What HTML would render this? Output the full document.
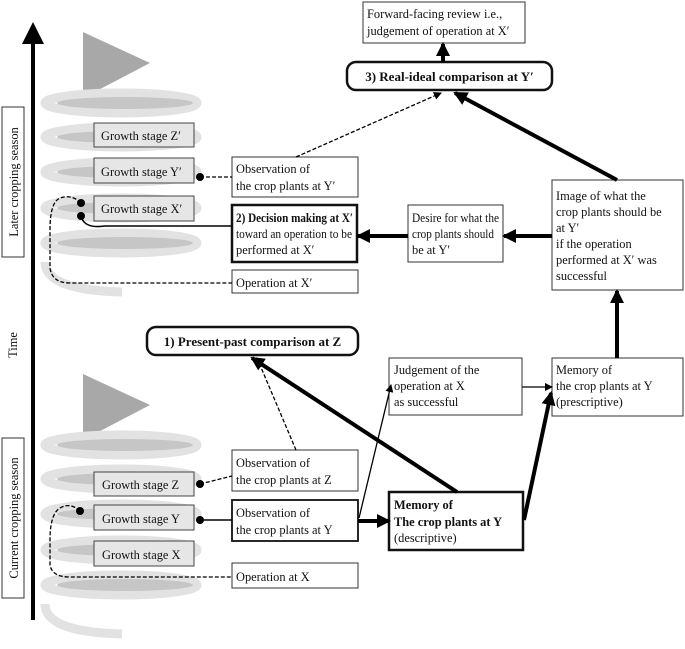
<!DOCTYPE html>
<html><head><meta charset="utf-8"><style>
html,body{margin:0;padding:0;background:#fff}
svg{display:block}
text{font-family:"Liberation Serif",serif;font-size:12.4px;fill:#111}
.b{font-weight:bold}
.r{font-size:13px}
</style></head><body>
<svg width="685" height="649" viewBox="0 0 685 649" xmlns="http://www.w3.org/2000/svg">
<defs>
<marker id="ah" markerWidth="8" markerHeight="8" refX="7" refY="4" orient="auto" markerUnits="userSpaceOnUse"><path d="M0,0 L8,4 L0,8 z" fill="#000"/></marker>
<marker id="ahb" markerWidth="14" markerHeight="14" refX="12" refY="7" orient="auto" markerUnits="userSpaceOnUse"><path d="M0,0 L14,7 L0,14 z" fill="#000"/></marker>
<g id="spiral">
  <path d="M83,32 L83,98 L150,63 z" fill="#a8a8a8"/>
  <g fill="none">
    <ellipse cx="121" cy="103" rx="76" ry="10" stroke="#e2e2e2" stroke-width="9"/>
    <ellipse cx="125" cy="103" rx="68" ry="6" fill="#c6c6c6"/>
    <ellipse cx="121" cy="137" rx="76" ry="10" stroke="#e2e2e2" stroke-width="9"/>
    <ellipse cx="125" cy="137" rx="68" ry="6" fill="#c6c6c6"/>
    <ellipse cx="121" cy="172" rx="76" ry="10" stroke="#e2e2e2" stroke-width="9"/>
    <ellipse cx="125" cy="172" rx="68" ry="6" fill="#c6c6c6"/>
    <ellipse cx="121" cy="208" rx="76" ry="10" stroke="#e2e2e2" stroke-width="9"/>
    <ellipse cx="125" cy="208" rx="68" ry="6" fill="#c6c6c6"/>
    <ellipse cx="121" cy="243" rx="76" ry="10" stroke="#e2e2e2" stroke-width="9"/>
    <ellipse cx="125" cy="243" rx="68" ry="6" fill="#c6c6c6"/>
    <path d="M45,262 Q45,290 122,292" stroke="#e2e2e2" stroke-width="9"/>
  </g>
</g>
</defs>

<line x1="33" y1="40" x2="33" y2="620" stroke="#000" stroke-width="4"/>
<path d="M22,44 L33,22 L44,44 z" fill="#000"/>
<rect x="2" y="107" width="22" height="150" fill="#fff" stroke="#333" stroke-width="1"/>
<text transform="translate(18,182) rotate(-90)" text-anchor="middle">Later cropping season</text>
<text transform="translate(17,345) rotate(-90)" text-anchor="middle">Time</text>
<rect x="2" y="438" width="22" height="160" fill="#fff" stroke="#333" stroke-width="1"/>
<text transform="translate(18,518) rotate(-90)" text-anchor="middle">Current cropping season</text>

<use href="#spiral"/>
<use href="#spiral" transform="translate(0,342)"/>

<g fill="#e6e6e6" stroke="#444" stroke-width="1">
<rect x="94" y="123" width="100" height="24"/>
<rect x="94" y="158" width="100" height="25"/>
<rect x="94" y="196" width="100" height="25"/>
<rect x="94" y="472" width="100" height="24"/>
<rect x="94" y="505" width="100" height="25"/>
<rect x="94" y="541" width="100" height="25"/>
</g>
<text x="101" y="140">Growth stage Z′</text>
<text x="101" y="176">Growth stage Y′</text>
<text x="101" y="213">Growth stage X′</text>
<text x="102" y="489">Growth stage Z</text>
<text x="102" y="523">Growth stage Y</text>
<text x="102" y="559">Growth stage X</text>

<g fill="#fff" stroke="#333" stroke-width="1">
<rect x="232" y="157" width="126" height="40"/>
<rect x="232" y="270" width="126" height="23"/>
<rect x="408" y="205" width="95" height="57"/>
<rect x="552" y="180" width="131" height="110"/>
<rect x="363" y="2" width="162" height="41"/>
<rect x="232" y="450" width="126" height="41"/>
<rect x="232" y="563" width="126" height="25"/>
<rect x="389" y="358" width="133" height="57"/>
<rect x="552" y="358" width="131" height="58"/>
</g>
<g fill="#fff" stroke="#111" stroke-width="2.5">
<rect x="232" y="205" width="125" height="57"/>
<rect x="232" y="500" width="126" height="41" stroke-width="1.8"/>
<rect x="389" y="492" width="134" height="58"/>
<rect x="347" y="62" width="205" height="28" rx="9"/>
<rect x="147" y="327" width="211" height="28" rx="9"/>
</g>

<text x="236" y="173">Observation of</text>
<text x="236" y="190">the crop plants at Y′</text>
<text x="236" y="222" class="b" textLength="117" lengthAdjust="spacingAndGlyphs">2) Decision making at X′</text>
<text x="236" y="238" textLength="116" lengthAdjust="spacingAndGlyphs">toward an operation to be</text>
<text x="236" y="254">performed at X′</text>
<text x="236" y="287">Operation at X′</text>
<text x="412" y="222" textLength="87" lengthAdjust="spacingAndGlyphs">Desire for what the</text>
<text x="412" y="238" textLength="82" lengthAdjust="spacingAndGlyphs">crop plants should</text>
<text x="412" y="254">be at Y′</text>
<text x="556" y="200">Image of what the</text>
<text x="556" y="216">crop plants should be</text>
<text x="556" y="232">at Y′</text>
<text x="556" y="248">if the operation</text>
<text x="556" y="264">performed at X′ was</text>
<text x="556" y="280">successful</text>
<text x="367" y="18">Forward-facing review i.e.,</text>
<text x="367" y="35">judgement of operation at X′</text>
<text x="449.5" y="81" class="b r" text-anchor="middle">3) Real-ideal comparison at Y′</text>
<text x="252.5" y="346" class="b r" text-anchor="middle">1) Present-past comparison at Z</text>
<text x="236" y="467">Observation of</text>
<text x="236" y="484">the crop plants at Z</text>
<text x="236" y="517">Observation of</text>
<text x="236" y="534">the crop plants at Y</text>
<text x="236" y="581">Operation at X</text>
<text x="394" y="374">Judgement of the</text>
<text x="394" y="390">operation at X</text>
<text x="394" y="406">as successful</text>
<text x="556" y="374">Memory of</text>
<text x="556" y="390">the crop plants at Y</text>
<text x="556" y="406">(prescriptive)</text>
<text x="394" y="509" class="b">Memory of</text>
<text x="394" y="526" class="b">The crop plants at Y</text>
<text x="394" y="542">(descriptive)</text>

<g fill="#000">
<circle cx="200" cy="177" r="4"/>
<circle cx="81" cy="203" r="4"/>
<circle cx="81" cy="216" r="4"/>
<circle cx="200" cy="484" r="4"/>
<circle cx="200" cy="520" r="4"/>
<circle cx="80" cy="511" r="4"/>
</g>

<g fill="none" stroke="#000">
<line x1="200" y1="177" x2="232" y2="177" stroke-dasharray="4,2" stroke-width="1.3"/>
<path d="M81,216 Q84,229 105,226 L232,226" stroke-width="1.5"/>
<path d="M81,203 Q72,194 60,198 Q50,202 50,230 L50,268 Q52,283 70,283 L232,283" stroke-dasharray="4,2" stroke-width="1.3"/>
<line x1="200" y1="484" x2="232" y2="476" stroke-dasharray="4,2" stroke-width="1.3"/>
<line x1="200" y1="520" x2="232" y2="520" stroke-width="1.5"/>
<path d="M80,511 Q70,502 60,508 Q50,514 50,540 L50,565 Q52,577 70,577 L232,577" stroke-dasharray="4,2" stroke-width="1.3"/>

<line x1="443" y1="62" x2="443" y2="44" stroke-width="4" marker-end="url(#ahb)"/>
<line x1="617" y1="180" x2="455" y2="93" stroke-width="4" marker-end="url(#ahb)"/>
<line x1="296" y1="157" x2="441" y2="93" stroke-dasharray="4,2" stroke-width="1.3" marker-end="url(#ah)"/>
<line x1="552" y1="236" x2="504" y2="236" stroke-width="4" marker-end="url(#ahb)"/>
<line x1="408" y1="236" x2="358" y2="236" stroke-width="4" marker-end="url(#ahb)"/>
<line x1="617" y1="358" x2="617" y2="291" stroke-width="4" marker-end="url(#ahb)"/>

<line x1="358" y1="521" x2="389" y2="521" stroke-width="4" marker-end="url(#ahb)"/>
<line x1="359" y1="518" x2="391" y2="385" stroke-width="1.3" marker-end="url(#ah)"/>
<line x1="522" y1="387" x2="552" y2="387" stroke-width="1.3" marker-end="url(#ah)"/>
<line x1="524" y1="520" x2="551" y2="393" stroke-width="4" marker-end="url(#ahb)"/>
<line x1="457" y1="492" x2="252" y2="358" stroke-width="4" marker-end="url(#ahb)"/>
<line x1="296" y1="450" x2="257" y2="358" stroke-dasharray="4,2" stroke-width="1.3" marker-end="url(#ah)"/>
</g>
</svg>
</body></html>
